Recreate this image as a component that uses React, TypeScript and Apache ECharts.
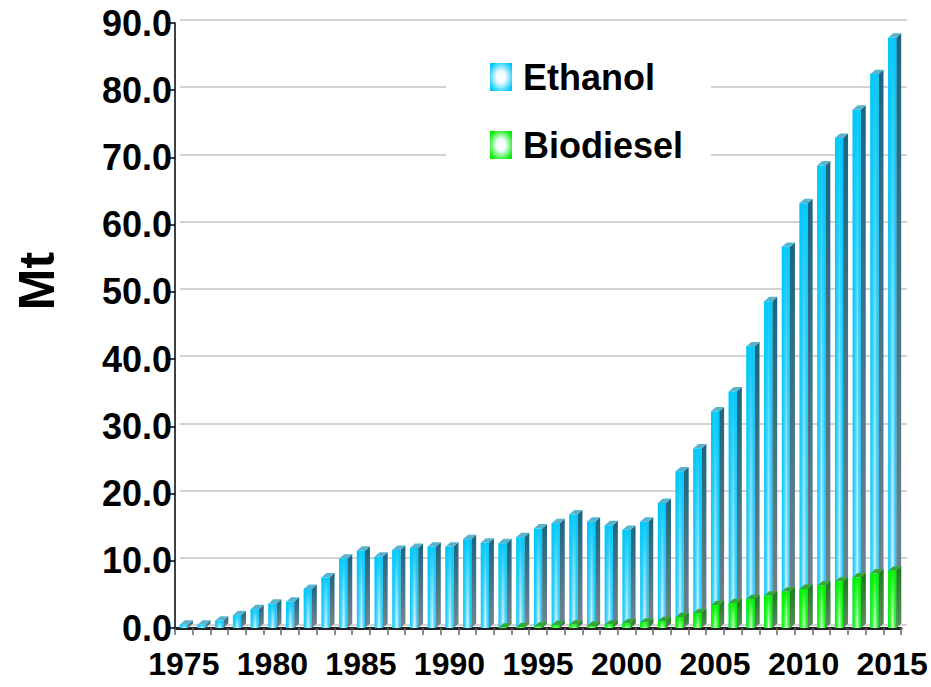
import React, { useEffect, useRef } from "react";
import * as echarts from "echarts";

const years = [
  "1975","1976","1977","1978","1979","1980","1981","1982","1983","1984",
  "1985","1986","1987","1988","1989","1990","1991","1992","1993","1994",
  "1995","1996","1997","1998","1999","2000","2001","2002","2003","2004",
  "2005","2006","2007","2008","2009","2010","2011","2012","2013","2014",
  "2015",
];

const ethanol = [
  0.5, 0.5, 1.1, 1.9, 2.8, 3.6, 3.9, 5.8, 7.5, 10.3,
  11.5, 10.6, 11.6, 11.9, 12.1, 12.1, 13.2, 12.7, 12.6, 13.5,
  14.8, 15.6, 16.9, 15.8, 15.3, 14.6, 15.8, 18.6, 23.3, 26.7,
  32.2, 35.2, 41.9, 48.6, 56.7, 63.2, 68.8, 72.9, 77.1, 82.4,
  87.8,
];

const biodiesel = [
  0, 0, 0, 0, 0, 0, 0, 0, 0, 0,
  0, 0, 0, 0, 0, 0, 0, 0, 0.05, 0.1,
  0.2, 0.4, 0.5, 0.3, 0.5, 0.7, 0.8, 1.0, 1.6, 2.2,
  3.4, 3.7, 4.3, 4.8, 5.4, 5.8, 6.3, 6.9, 7.5, 8.1,
  8.5,
];

const yTicks = [0, 10, 20, 30, 40, 50, 60, 70, 80, 90];

const FONT = "'Liberation Sans', Arial, sans-serif";

type Palette = {
  edge: string;
  mid: string;
  center: string;
  overlayRGB: string;
  sideTop: string;
  sideBottom: string;
  top: string;
};

const cyanPal: Palette = {
  edge: "#00c6f8",
  mid: "#5fd8ff",
  center: "#e2f7ff",
  overlayRGB: "0,200,250",
  sideTop: "#1b6580",
  sideBottom: "#77858c",
  top: "#58b4cc",
};

const greenPal: Palette = {
  edge: "#00f000",
  mid: "#40ff40",
  center: "#e6ffe6",
  overlayRGB: "0,240,0",
  sideTop: "#1f7a1f",
  sideBottom: "#5f8a5f",
  top: "#35a835",
};

function makeRender(pal: Palette) {
  return (params: any, api: any) => {
    const idx = api.value(0);
    const v = api.value(1);
    if (!v || v <= 0) return null;
    const p1 = api.coord([idx, v]);
    const p0 = api.coord([idx, 0]);
    const bw = api.size([1, 0])[0];
    const fw = bw * 0.46;
    const dx = bw * 0.28;
    const dy = dx * 0.9;
    const x0 = p1[0] - fw / 2;
    const x1 = p1[0] + fw / 2;
    const yT = p1[1];
    const yB = p0[1];
    const h = Math.max(yB - yT, 0.5);
    return {
      type: "group",
      children: [
        {
          type: "polygon",
          shape: {
            points: [
              [x1, yT],
              [x1 + dx, yT - dy],
              [x1 + dx, yB - dy],
              [x1, yB],
            ],
          },
          style: {
            fill: new echarts.graphic.LinearGradient(0, 0, 0, 1, [
              { offset: 0, color: pal.sideTop },
              { offset: 1, color: pal.sideBottom },
            ]),
          },
        },
        {
          type: "polygon",
          shape: {
            points: [
              [x0, yT],
              [x0 + dx, yT - dy],
              [x1 + dx, yT - dy],
              [x1, yT],
            ],
          },
          style: { fill: pal.top },
        },
        {
          type: "rect",
          shape: { x: x0, y: yT, width: fw, height: h },
          style: {
            fill: new echarts.graphic.LinearGradient(0, 0, 1, 0, [
              { offset: 0, color: pal.edge },
              { offset: 0.3, color: pal.mid },
              { offset: 0.55, color: pal.center },
              { offset: 0.8, color: pal.mid },
              { offset: 1, color: pal.edge },
            ]),
          },
        },
        {
          type: "rect",
          shape: { x: x0, y: yT, width: fw, height: h },
          style: {
            fill: new echarts.graphic.LinearGradient(0, 0, 0, 1, [
              { offset: 0, color: `rgba(${pal.overlayRGB},0.95)` },
              { offset: 0.45, color: `rgba(${pal.overlayRGB},0.45)` },
              { offset: 1, color: `rgba(${pal.overlayRGB},0.0)` },
            ]),
          },
        },
      ],
    };
  };
}

function legendFill(edge: string) {
  return {
    type: "radial",
    x: 0.5,
    y: 0.5,
    r: 0.6,
    colorStops: [
      { offset: 0, color: "#ffffff" },
      { offset: 0.35, color: "#f2fbff" },
      { offset: 1, color: edge },
    ],
  };
}

export default function App() {
  const ref = useRef<HTMLDivElement>(null);

  useEffect(() => {
    if (!ref.current) return;
    const chart = echarts.init(ref.current, undefined, { renderer: "svg" });

    const option: any = {
      animation: false,
      backgroundColor: "#ffffff",
      grid: [
        { left: 175, right: 30, top: 23, bottom: 59 },
        { left: 180, right: 24, top: 20, bottom: 62 },
      ],
      legend: {
        orient: "vertical",
        left: 490,
        top: 59,
        padding: 0,
        itemWidth: 22,
        itemHeight: 28,
        itemGap: 32,
        icon: "rect",
        z: 10,
        textStyle: {
          fontFamily: FONT,
          fontWeight: "bold",
          fontSize: 36,
          lineHeight: 36,
          color: "#000",
          padding: [0, 0, 0, 6],
        },
        data: [
          { name: "Ethanol", itemStyle: { color: legendFill("#00c8ff") } },
          { name: "Biodiesel", itemStyle: { color: legendFill("#00ee00") } },
        ],
      },
      graphic: [
        {
          type: "rect",
          left: 446,
          top: 32,
          z: 1,
          shape: { width: 265, height: 165 },
          style: { fill: "#ffffff" },
        },
        {
          type: "text",
          x: 37,
          y: 281,
          rotation: Math.PI / 2,
          z: 5,
          style: {
            text: "Mt",
            fontFamily: FONT,
            fontWeight: "bold",
            fontSize: 50,
            fill: "#000",
            align: "center",
            verticalAlign: "middle",
          },
        },
      ],
      xAxis: [
        {
          type: "category",
          gridIndex: 0,
          data: years,
          boundaryGap: true,
          axisLine: { show: true, lineStyle: { color: "#222", width: 3 } },
          axisTick: {
            show: true,
            interval: 0,
            length: 7,
            lineStyle: { color: "#666", width: 1.5 },
          },
          axisLabel: {
            interval: 4,
            margin: 20,
            fontFamily: FONT,
            fontWeight: "bold",
            fontSize: 32,
            color: "#000",
          },
          splitLine: { show: false },
        },
        {
          type: "value",
          gridIndex: 1,
          show: false,
        },
      ],
      yAxis: [
        {
          type: "value",
          gridIndex: 0,
          min: 0,
          max: 90,
          interval: 10,
          axisLine: { show: true, lineStyle: { color: "#000", width: 1.5 } },
          axisTick: { show: true, length: 5, lineStyle: { color: "#000", width: 1.5 } },
          axisLabel: {
            margin: 3,
            fontFamily: FONT,
            fontWeight: "bold",
            fontSize: 36,
            color: "#000",
            formatter: (v: number) => v.toFixed(1),
          },
          splitLine: { show: false },
        },
        {
          type: "value",
          gridIndex: 1,
          min: yTicks[0],
          max: yTicks[yTicks.length - 1],
          interval: 10,
          axisLine: { show: false },
          axisTick: { show: false },
          axisLabel: { show: false },
          splitLine: { show: true, lineStyle: { color: "#c4c4c4", width: 1.5 } },
        },
      ],
      series: [
        {
          name: "Ethanol",
          type: "custom",
          xAxisIndex: 0,
          yAxisIndex: 0,
          z: 3,
          itemStyle: { color: legendFill("#00c8ff") },
          renderItem: makeRender(cyanPal),
          encode: { x: 0, y: 1 },
          data: ethanol.map((v, i) => [i, v]),
        },
        {
          name: "Biodiesel",
          type: "custom",
          xAxisIndex: 0,
          yAxisIndex: 0,
          z: 4,
          itemStyle: { color: legendFill("#00ee00") },
          renderItem: makeRender(greenPal),
          encode: { x: 0, y: 1 },
          data: biodiesel.map((v, i) => [i, v]),
        },
      ],
    };

    chart.setOption(option);
    return () => {
      chart.dispose();
    };
  }, []);

  return (
    <div
      ref={ref}
      style={{ position: "absolute", left: 0, top: 0, width: 931, height: 687 }}
    />
  );
}
